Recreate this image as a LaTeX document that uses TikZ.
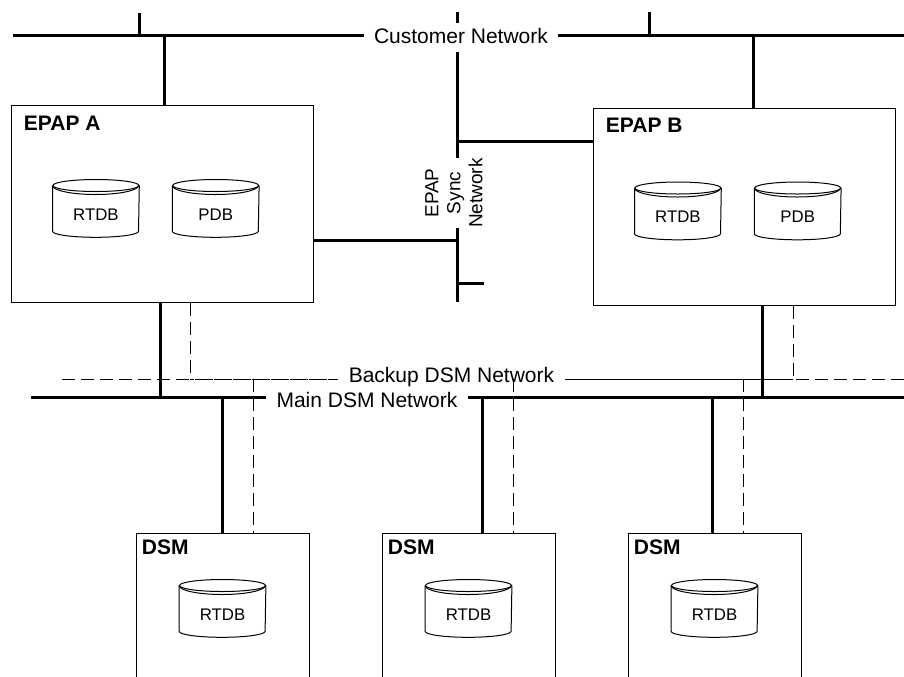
\documentclass[tikz,border=0pt]{standalone}
\usepackage{fontspec}
\setmainfont{Liberation Sans}
\usetikzlibrary{positioning}

\tikzset{
  bus/.style={line width=1.5pt},
  backup/.style={line width=0.5pt, dash pattern=on 6.5pt off 3pt},
  server/.style={draw, line width=0.5pt, minimum width=151pt, minimum height=98.5pt, inner sep=0pt},
  dsmbox/.style={draw, line width=0.5pt, minimum width=86.5pt, minimum height=80pt, inner sep=0pt},
  boxtitle/.style={anchor=base west, inner sep=0pt, font=\fontsize{10.5}{12}\selectfont\bfseries},
  netlabel/.style={anchor=base, inner xsep=5pt, inner ysep=2pt, font=\fontsize{10.5}{12}\selectfont},
  db/.style={minimum width=43pt, minimum height=22.5pt, inner sep=0pt, font=\fontsize{8.4}{10}\selectfont}
}

% cylinder outline round a db node
\newcommand{\dboutline}[1]{%
  \draw[line width=0.5pt] ([yshift=3pt]#1.north west) -- ([yshift=3pt]#1.south west)
    arc[start angle=180, end angle=360, x radius=21.5pt, y radius=3pt]
    -- ([yshift=3pt]#1.north east);
  \draw[line width=0.5pt] ([yshift=3pt]#1.north) ellipse[x radius=21.5pt, y radius=3pt];
  \draw[line width=0.5pt] ([yshift=3pt]#1.north west)
    arc[start angle=180, end angle=360, x radius=21.5pt, y radius=4.5pt];
}

\begin{document}
\begin{tikzpicture}[x=0.5pt, y=-0.5pt]
  \useasboundingbox (0,0) rectangle (904,676);
  \clip (0,0) rectangle (904,676);

  % EPAP servers
  \node[server] (epapA) at (162,203.5) {};
  \node[server] (epapB) at (744,207) {};
  \node[boxtitle] (epapA-t) at ([xshift=6.5pt, yshift=-13pt]epapA.north west) {EPAP A};
  \node[boxtitle] (epapB-t) at ([xshift=6.5pt, yshift=-12pt]epapB.north west) {EPAP B};
  \node[db, below right=43.5pt and 21pt of epapA.north west] (rtdbA) {RTDB};
  \node[db, right=16.5pt of rtdbA] (pdbA) {PDB};
  \node[db, below right=43pt and 21pt of epapB.north west] (rtdbB) {RTDB};
  \node[db, right=16.5pt of rtdbB] (pdbB) {PDB};
  \dboutline{rtdbA} \dboutline{pdbA} \dboutline{rtdbB} \dboutline{pdbB}

  % Customer network
  \node[netlabel, text depth=2.5pt] (cust) at (461,43) {Customer Network};
  \coordinate (custL) at (13,35);
  \coordinate (custR) at (904,35);
  \coordinate (tickA) at (139,13);
  \coordinate (tickB) at (649,12);
  \coordinate (cA) at (164,35);
  \coordinate (cB) at (753,35);
  \draw[bus] (custL) -- (custL -| cust.west);
  \draw[bus] (custR) -- (custR -| cust.east);
  \draw[bus] (tickA) -- (tickA |- custL);
  \draw[bus] (tickB) -- (tickB |- custL);
  \draw[bus] (cA) -- (cA |- epapA.north);
  \draw[bus] (cB) -- (cB |- epapB.north);

  % EPAP sync network
  \node[rotate=90, align=center, inner sep=0pt, font=\fontsize{9.5}{11}\selectfont] (sync) at (454,193) {EPAP\\Sync\\Network};
  \coordinate (syncT) at (457,12);
  \coordinate (syncB) at (457,302);
  \coordinate (syncToB) at (457,141);
  \coordinate (syncToA) at (457,240);
  \coordinate (syncStub) at (484,283);
  \draw[bus] (syncT) -- (syncT |- cust.north);
  \draw[bus] (syncT |- cust.south) -- (syncT |- sync.east);
  \draw[bus] (syncT |- sync.west) -- (syncB);
  \draw[bus] (syncToB) -- (syncToB -| epapB.west);
  \draw[bus] (syncToA) -- (syncToA -| epapA.east);
  \draw[bus] (syncStub) -- (syncStub -| syncT);

  % DSM networks
  \node[netlabel] (backup) at (451.5,382) {Backup DSM Network};
  \node[netlabel] (main) at (367,407) {Main DSM Network};
  \coordinate (mainL) at (31,397);
  \coordinate (mainR) at (904,397);
  \coordinate (bkL) at (62,379);
  \coordinate (bkR) at (904,379);
  \draw[bus] (mainL) -- (mainL -| main.west);
  \draw[bus] (mainR) -- (mainR -| main.east);
  \draw[backup] (bkL) -- (bkL -| backup.west);
  \draw[backup] (bkR) -- (bkR -| backup.east);

  % EPAP drops
  \coordinate (dA) at (160,397);
  \coordinate (dAb) at (190,379);
  \coordinate (dB) at (762,397);
  \coordinate (dBb) at (793,379);
  \draw[bus] (dA |- epapA.south) -- (dA);
  \draw[backup] (dAb |- epapA.south) -- (dAb);
  \draw[bus] (dB |- epapB.south) -- (dB);
  \draw[backup] (dBb |- epapB.south) -- (dBb);
  \draw[backup, dash phase=4.75pt] (dAb) -- (dAb -| backup.west);
  \draw[backup, dash phase=2pt] (dBb) -- (dBb -| backup.east);

  % DSMs
  \foreach \i/\cx/\sx in {1/222.5/222, 2/468.5/482, 3/714.5/712} {
    \node[dsmbox] (dsm\i) at (\cx,613) {};
    \node[boxtitle] (dsm\i-t) at ([xshift=3pt, yshift=-11pt]dsm\i.north west) {DSM};
    \node[db, below=29.5pt of dsm\i.north] (rtdb\i) {RTDB};
    \dboutline{rtdb\i}
    \coordinate (d\i) at (\sx,397);
    \coordinate (db\i) at (\sx+31,379);
    \draw[bus] (d\i) -- (d\i |- dsm\i.north);
    \draw[backup] (db\i) -- (db\i |- dsm\i.north);
  }
\end{tikzpicture}
\end{document}
